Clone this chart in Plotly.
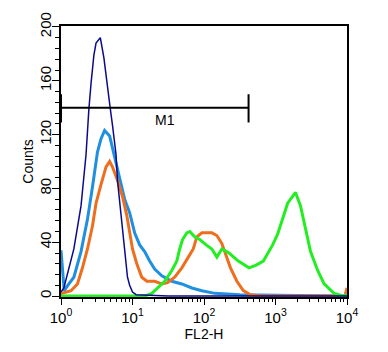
import plotly.graph_objects as go

# log10 positions and counts for each histogram
navy_logx = [0.0, 0.04, 0.18, 0.28, 0.35, 0.37, 0.39, 0.42, 0.46, 0.49, 0.52, 0.55, 0.60, 0.65, 0.69, 0.72, 0.77, 0.79, 0.85, 0.89, 0.93, 0.96, 1.0, 1.05, 1.5, 2.3, 4.0]
navy_y = [3, 6, 35, 67, 105, 127, 139, 158, 179, 188, 190, 192, 177, 158, 139, 127, 105, 86, 57, 33, 14, 8, 3, 1, 0, 0, 0]

blue_logx = [0.0, 0.03, 0.045, 0.11, 0.18, 0.28, 0.37, 0.44, 0.49, 0.51, 0.56, 0.61, 0.68, 0.72, 0.77, 0.85, 0.89, 0.96, 1.03, 1.10, 1.17, 1.24, 1.31, 1.41, 1.55, 1.69, 1.83, 1.97, 2.15, 2.5, 3.0, 3.3, 4.0]
blue_y = [34, 12, 4, 9, 14, 33, 57, 81, 98, 107, 117, 123, 119, 110, 100, 81, 72, 62, 47, 38, 33, 26, 20, 15, 11, 9, 6, 4, 2, 1, 1, 0.5, 0]

orange_logx = [0.0, 0.01, 0.14, 0.23, 0.30, 0.37, 0.44, 0.49, 0.56, 0.63, 0.68, 0.72, 0.79, 0.86, 0.92, 0.96, 1.0, 1.06, 1.13, 1.20, 1.31, 1.41, 1.49, 1.59, 1.69, 1.77, 1.85, 1.90, 1.97, 2.11, 2.18, 2.25, 2.30, 2.37, 2.46, 2.55, 2.65, 2.8, 3.97, 4.0]
orange_y = [1, 2, 4, 9, 21, 35, 52, 69, 83, 96, 100, 96, 86, 74, 60, 47, 35, 24, 14, 11, 11, 9, 10, 14, 21, 28, 35, 44, 47, 47, 45, 39, 31, 21, 11, 4, 1, 0, 0, 6]

green_logx = [0.0, 1.17, 1.27, 1.35, 1.45, 1.55, 1.62, 1.66, 1.70, 1.76, 1.80, 1.87, 1.94, 2.03, 2.11, 2.18, 2.25, 2.35, 2.48, 2.63, 2.73, 2.83, 2.96, 3.03, 3.11, 3.17, 3.28, 3.35, 3.42, 3.49, 3.59, 3.68, 3.82, 3.95, 4.0]
green_y = [0, 0, 2, 6, 11, 19, 26, 35, 42, 47, 48, 44, 42, 38, 35, 29, 35, 32, 26, 21, 23, 26, 38, 46, 60, 69, 77, 67, 50, 33, 19, 9, 2, 0, 1]

# M1 gate marker
m1_x = [1, 420]
m1_y = 140
m1_bar = [129, 150]

x_ticks = [1, 10, 100, 1000, 10000]
x_ticktext = ["10<sup>0</sup>", "10<sup>1</sup>", "10<sup>2</sup>", "10<sup>3</sup>", "10<sup>4</sup>"]
x_minor = [m * 10 ** k for k in range(4) for m in range(2, 10)]
y_ticks = [0, 40, 80, 120, 160, 200]


def tolin(lx):
    return [10 ** v for v in lx]


fig = go.Figure()
fig.add_trace(go.Scatter(x=tolin(blue_logx), y=blue_y, mode="lines",
                         line=dict(color="#1F8FE0", width=3), showlegend=False))
fig.add_trace(go.Scatter(x=tolin(orange_logx), y=orange_y, mode="lines",
                         line=dict(color="#EE6E1E", width=3), showlegend=False))
fig.add_trace(go.Scatter(x=tolin(green_logx), y=green_y, mode="lines",
                         line=dict(color="#22EE22", width=3), showlegend=False))
fig.add_trace(go.Scatter(x=tolin(navy_logx), y=navy_y, mode="lines",
                         line=dict(color="#0A0A8C", width=1.5), showlegend=False))

# gate line and end bars
fig.add_trace(go.Scatter(x=m1_x, y=[m1_y, m1_y], mode="lines",
                         line=dict(color="black", width=2), showlegend=False))
for xv in m1_x:
    fig.add_trace(go.Scatter(x=[xv, xv], y=m1_bar, mode="lines",
                             line=dict(color="black", width=2), showlegend=False))

fig.add_annotation(x=1.46, y=131, text="M1", showarrow=False,
                   font=dict(size=14, color="black"))

font = dict(family="Arial, Liberation Sans, sans-serif", size=14, color="black")

fig.update_layout(
    width=388, height=352,
    margin=dict(l=61, r=41, t=17, b=55),
    paper_bgcolor="white", plot_bgcolor="white",
    font=font,
    xaxis=dict(type="log", range=[0, 4], tickmode="array", tickvals=x_ticks,
               ticktext=x_ticktext, ticks="outside", ticklen=6, tickwidth=1,
               tickcolor="black", showline=True, linecolor="black", linewidth=1.5,
               mirror=True, showgrid=False, zeroline=False,
               tickfont=dict(size=15),
               minor=dict(tickmode="array", tickvals=x_minor, ticks="outside",
                          ticklen=3, tickcolor="black", showgrid=False),
               title=dict(text="FL2-H", font=dict(size=14), standoff=4)),
    yaxis=dict(range=[-0.7, 200.7], tickmode="array", tickvals=y_ticks,
               ticks="outside", ticklen=7, tickwidth=1, tickcolor="black",
               tickangle=-90, showline=True, linecolor="black", linewidth=1.5,
               mirror=True, showgrid=False, zeroline=False,
               tickfont=dict(size=15), ticklabelstandoff=-5,
               minor=dict(dtick=8, tick0=0, ticks="outside", ticklen=4,
                          tickcolor="black", showgrid=False),
               title=dict(text="Counts", font=dict(size=14), standoff=0)),
)

fig.write_html("out.html")
